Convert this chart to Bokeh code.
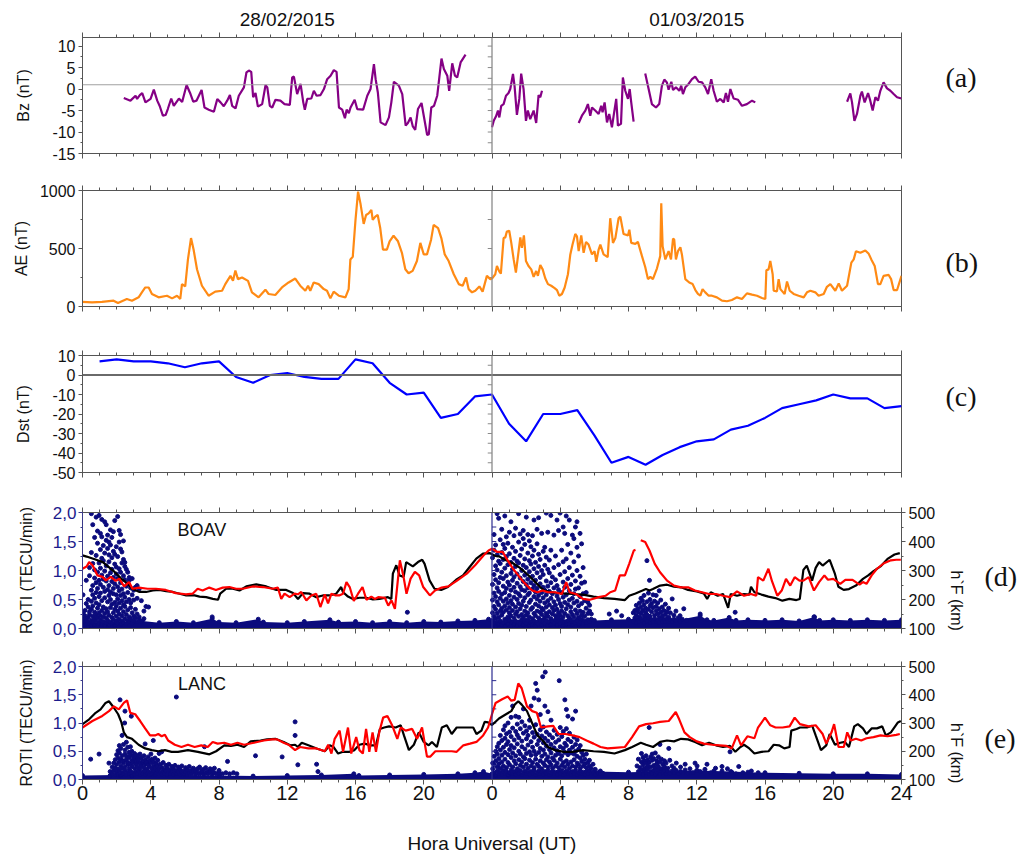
import math
from bokeh.plotting import figure
from bokeh.models import Range1d, LinearAxis, FixedTicker, Span, Label
from bokeh.layouts import column
from bokeh.embed import file_html
from bokeh.resources import INLINE

NaN = float("nan")
FONT = "Liberation Sans"
SERIF = "Liberation Serif"

# ---------------- axis / text data ----------------
x_ticks = [0, 4, 8, 12, 16, 20, 24, 28, 32, 36, 40, 44, 48]
x_minor = list(range(0, 49))
x_tick_labels = ["0", "4", "8", "12", "16", "20", "0", "4", "8", "12", "16", "20", "24"]
x_title = "Hora Universal (UT)"
date_pos = [12, 36]
dates = ["28/02/2015", "01/03/2015"]
panel_tags = ["(a)", "(b)", "(c)", "(d)", "(e)"]
stations = ["BOAV", "LANC"]

bz_ticks = [-15, -10, -5, 0, 5, 10]
ae_ticks = [0, 500, 1000]
dst_ticks = [-50, -40, -30, -20, -10, 0, 10]
roti_ticks = [0, 0.5, 1, 1.5, 2]
roti_labels = ["0,0", "0,5", "1,0", "1,5", "2,0"]
hf_ticks = [100, 200, 300, 400, 500]

# ---------------- Bz (nT) ----------------
bz_seg1 = [(2.42,-2.1),(2.81,-2.7),(3.11,-1.55),(3.2,-2.3),(3.36,-1.4),(3.5,-0.93),(3.69,-3.1),(3.99,-2.3),(4.18,-0.15),(4.38,-2.7),(4.53,-4.0),(4.71,-6.2),(4.87,-6.05),(5.0,-4.65),(5.2,-2.2),(5.35,-3.9),(5.65,-2.2),(5.84,-3.0),(6.1,0.93),(6.33,-1.16),(6.49,-2.95),(6.68,-2.7),(6.82,-1.55),(6.98,-0.23),(7.15,-4.3),(7.4,-4.8),(7.7,-5.3),(7.9,-2.3),(8.09,-3.1),(8.28,-4.0),(8.48,-2.7),(8.64,-1.4),(8.77,-3.9),(8.97,-4.5),(9.16,-1.55),(9.46,0.4),(9.61,3.9),(9.75,4.3),(9.89,4.0),(10.0,-1.9),(10.14,-0.93),(10.28,-4.1),(10.53,-3.5),(10.73,0.93),(10.83,0.4),(10.98,-3.9),(11.12,-4.3),(11.31,-2.5),(11.6,-2.7),(11.84,-3.5),(12.15,-3.7),(12.29,2.7),(12.39,2.9),(12.58,-1.16),(12.78,1.2),(12.94,-3.1),(13.03,-4.8),(13.17,-2.3),(13.41,-2.2),(13.56,-0.4),(13.72,-1.55),(13.95,-1.4),(14.15,0.0),(14.34,2.3),(14.54,3.1),(14.73,4.4),(14.89,4.0),(15.03,-4.3),(15.22,-4.8),(15.38,-6.8),(15.48,-4.8),(15.61,-5.6),(15.71,-4.3),(15.95,-2.5),(16.1,-4.65),(16.45,-4.8),(16.69,-1.55),(16.88,0.0),(17.08,5.8),(17.18,2.3),(17.31,-0.8),(17.47,-7.75),(17.63,-8.1),(17.76,-8.4),(17.96,-6.6),(18.1,-3.1),(18.25,1.7),(18.54,0.8),(18.74,-1.16),(18.94,-8.5),(19.07,-7.9),(19.23,-6.6),(19.36,-8.7),(19.5,-9.5),(19.66,-4.65),(19.87,-3.25),(20.0,-6.2),(20.2,-10.7),(20.3,-10.5),(20.44,-4.3),(20.6,-3.9),(20.79,-1.55),(21.04,7.1),(21.18,4.65),(21.38,3.1),(21.49,-0.4),(21.67,6.0),(21.83,3.1),(21.96,2.7),(22.16,6.2),(22.45,8.0)]
bz_seg2 = [(24.0,-8.9),(24.1,-7.4),(24.23,-6.4),(24.35,-5.0),(24.43,-6.6),(24.54,-3.9),(24.68,-3.5),(24.82,-1.55),(24.97,-0.93),(25.07,0.0),(25.23,3.5),(25.32,0.8),(25.46,-6.0),(25.6,-2.3),(25.71,3.6),(25.85,0.0),(25.99,-7.4),(26.1,-5.0),(26.24,-7.0),(26.44,-5.0),(26.59,-7.9),(26.73,-1.4),(26.83,-1.9),(26.93,-0.4)]
bz_seg3 = [(29.08,-7.9),(29.27,-6.2),(29.47,-5.0),(29.62,-3.5),(29.76,-6.2),(29.86,-4.3),(30.05,-5.0),(30.25,-5.8),(30.4,-3.9),(30.48,-5.4),(30.6,-3.1),(30.74,-7.75),(30.87,-5.8),(31.03,-8.9),(31.13,-6.2),(31.28,-2.3),(31.38,-8.5),(31.56,-8.1),(31.67,2.7),(31.81,-0.4),(31.97,-2.3),(32.07,0.0),(32.16,-3.1),(32.3,-7.6)]
bz_seg4 = [(32.98,3.6),(33.18,0.0),(33.37,-3.5),(33.61,-4.3),(33.8,-3.5),(33.96,0.8),(34.1,2.2),(34.25,1.55),(34.35,-0.15),(34.51,1.7),(34.61,-0.23),(34.78,0.4),(34.98,-0.4),(35.09,0.8),(35.19,-1.16),(35.33,0.4),(35.52,1.2),(35.72,2.3),(35.91,2.9),(36.11,1.7),(36.31,1.55),(36.5,0.4),(36.66,-1.16),(36.85,2.3),(36.99,-0.4),(37.18,-2.95),(37.38,-2.3),(37.58,-3.1),(37.71,-0.93),(37.83,-2.95),(37.97,0.0),(38.16,-2.2),(38.42,-2.5),(38.65,-3.9),(38.94,-3.5),(39.24,-2.7),(39.43,-3.1)]
bz_seg5 = [(44.81,-2.95),(45.0,-1.0),(45.1,-3.1),(45.24,-7.4),(45.39,-5.8),(45.59,-1.55),(45.68,-0.6),(45.84,-3.1),(46.04,-0.93),(46.17,-2.7),(46.31,-5.0),(46.47,-1.9),(46.62,-2.7),(46.76,-0.4),(46.95,1.55),(47.15,0.15),(47.35,-0.4),(47.54,-1.16),(47.74,-1.9),(48.0,-2.2)]
bz_ref = 1.0

# ---------------- AE (nT) ----------------
ae_pts = [(0.0,40),(0.56,36),(1.14,40),(1.82,50),(2.08,30),(2.6,65),(2.9,50),(3.29,79),(3.48,122),(3.68,164),(3.88,164),(4.07,108),(4.46,79),(4.95,93),(5.25,70),(5.54,93),(5.73,65),(5.83,193),(6.02,173),(6.18,406),(6.36,590),(6.51,491),(6.71,321),(7.0,179),(7.39,93),(7.78,128),(8.18,136),(8.37,193),(8.67,264),(8.82,221),(8.96,310),(9.11,236),(9.35,250),(9.7,221),(9.93,122),(10.32,79),(10.72,145),(10.91,108),(11.3,99),(11.69,164),(12.08,207),(12.47,241),(12.76,179),(13.06,136),(13.22,179),(13.35,136),(13.55,207),(13.84,193),(14.14,150),(14.33,136),(14.53,70),(14.72,128),(15.02,93),(15.41,79),(15.6,150),(15.7,406),(15.84,428),(16.0,747),(16.15,990),(16.29,889),(16.48,712),(16.62,789),(16.77,803),(16.93,832),(17.01,747),(17.16,775),(17.3,789),(17.45,676),(17.61,491),(17.84,491),(18.0,562),(18.23,610),(18.49,562),(18.72,463),(18.92,321),(19.11,287),(19.35,307),(19.6,392),(19.8,548),(20.0,449),(20.19,449),(20.43,576),(20.58,704),(20.84,676),(21.03,590),(21.23,449),(21.46,392),(21.76,278),(22.05,193),(22.28,179),(22.48,250),(22.63,150),(22.83,122),(23.02,136),(23.26,173),(23.45,128),(23.7,264),(23.9,236),
          (24.0,241),(24.19,278),(24.29,349),(24.43,301),(24.52,284),(24.68,590),(24.78,596),(24.87,647),(25.01,653),(25.13,548),(25.27,406),(25.4,292),(25.56,477),(25.66,596),(25.75,505),(25.87,613),(25.99,392),(26.14,349),(26.3,320),(26.44,255),(26.59,306),(26.69,264),(26.83,357),(26.97,320),(27.12,244),(27.28,193),(27.47,179),(27.67,159),(27.81,142),(27.94,93),(28.1,108),(28.26,164),(28.45,278),(28.59,449),(28.72,534),(28.88,625),(28.98,605),(29.08,477),(29.23,613),(29.37,463),(29.51,557),(29.66,534),(29.86,449),(30.01,477),(30.11,386),(30.25,491),(30.35,534),(30.54,449),(30.78,426),(30.93,761),(31.09,548),(31.23,590),(31.42,761),(31.52,775),(31.71,625),(31.97,613),(32.05,662),(32.16,548),(32.4,540),(32.55,557),(32.79,434),(32.98,341),(33.14,236),(33.28,255),(33.43,236),(33.67,329),(33.86,434),(33.92,889),(34.0,520),(34.16,406),(34.35,477),(34.49,406),(34.61,585),(34.68,576),(34.78,406),(34.9,477),(35.04,511),(35.13,449),(35.33,236),(35.56,207),(35.76,193),(35.92,142),(36.07,108),(36.21,93),(36.34,150),(36.5,122),(36.7,93),(36.89,93),(37.18,79),(37.48,50),(37.77,45),(38.06,56),(38.36,79),(38.65,65),(38.94,113),(39.24,102),(39.53,93),(39.82,73),(40.02,65),(40.08,312),(40.21,320),(40.31,392),(40.45,278),(40.51,136),(40.7,130),(40.8,236),(40.9,150),(41.15,108),(41.29,216),(41.45,136),(41.68,108),(41.97,93),(42.27,79),(42.46,122),(42.66,136),(42.95,122),(43.14,93),(43.44,108),(43.63,170),(43.83,193),(44.12,136),(44.32,199),(44.51,136),(44.81,179),(45.06,378),(45.2,406),(45.33,477),(45.59,463),(45.88,483),(46.08,454),(46.23,406),(46.43,349),(46.62,193),(46.76,193),(46.95,264),(47.25,272),(47.39,236),(47.54,142),(47.74,142),(48.0,264)]

# ---------------- Dst (nT), hourly ----------------
dst_hours = list(range(1, 49))
dst_values = [7, 8, 7, 7, 6, 4, 6, 7, -1, -4, 0, 1, -1, -2, -2, 8, 6, -4, -10, -9, -22, -20, -11, -10,
              -25, -34, -20, -20, -18, -31, -45, -42, -46, -41, -37, -34, -33, -28, -26, -22, -17, -15, -13, -10, -12, -12, -17, -16]

# ---------------- BOAV h'F (km) ----------------
boav_black = [(0.0,352),(0.24,348),(0.8,337),(1.19,329),(1.49,314),(1.88,295),(2.27,272),(2.66,254),(2.91,237),(3.34,226),(3.73,226),(4.12,231),(4.51,233),(4.9,229),(5.3,226),(5.69,220),(6.08,214),(6.57,214),(6.86,210),(7.25,208),(7.64,202),(7.94,199),(8.07,220),(8.42,237),(8.81,237),(9.2,231),(9.6,245),(10.18,252),(10.77,245),(11.36,233),(11.94,233),(12.34,222),(12.63,202),(12.92,222),(13.31,220),(13.7,208),(14.09,214),(14.48,214),(14.87,220),(15.16,243),(15.26,226),(15.56,210),(15.85,202),(16.24,206),(16.63,206),(17.02,200),(17.41,202),(17.9,208),(18.1,202),(18.19,289),(18.39,318),(18.58,283),(18.82,278),(18.97,329),(19.36,314),(19.66,329),(19.91,337),(20.05,323),(20.34,266),(20.63,237),(21.02,233),(21.42,243),(21.9,268),(22.3,283),(22.69,312),(23.08,341),(23.47,358),(23.86,360),
              (24.2,350),(24.41,349),(24.82,335),(25.23,325),(25.64,309),(26.05,288),(26.46,265),(26.83,242),(27.08,231),(27.49,225),(28.1,221),(28.72,219),(29.33,217),(29.95,210),(30.56,205),(31.18,202),(31.79,198),(32.04,213),(32.41,221),(32.82,231),(33.02,236),(33.23,231),(33.43,236),(33.85,248),(34.26,251),(34.67,244),(35.08,242),(35.49,233),(36.0,228),(36.41,221),(36.61,202),(36.82,225),(37.23,213),(37.54,219),(37.84,171),(37.99,219),(38.36,213),(38.77,219),(39.08,217),(39.18,244),(39.38,225),(39.79,217),(40.2,210),(40.61,205),(41.02,196),(41.43,202),(41.84,198),(42.04,202),(42.25,302),(42.45,317),(42.76,265),(42.97,309),(43.17,329),(43.38,317),(43.79,337),(44.1,288),(44.3,244),(44.61,233),(44.92,236),(45.33,248),(45.74,271),(46.05,283),(46.36,298),(46.77,314),(47.18,340),(47.59,355),(47.9,360)]
boav_red_1 = [(0.0,306),(0.24,314),(0.39,329),(0.59,318),(0.88,283),(1.17,278),(1.37,266),(1.66,278),(1.95,264),(2.15,272),(2.44,245),(2.73,260),(2.93,237),(3.32,241),(3.81,237),(4.3,237),(4.88,233),(5.47,222),(6.06,218),(6.45,220),(6.75,237),(7.04,231),(7.43,241),(7.82,233),(8.22,241),(8.61,243),(9.0,237),(9.39,237),(9.98,245),(10.57,243),(11.15,237),(11.45,241),(11.65,202),(11.84,220),(12.14,208),(12.43,220),(12.63,218),(12.82,226),(13.12,197),(13.41,214),(13.7,220),(13.94,174),(14.2,218),(14.39,187),(14.59,220),(14.84,214),(15.04,214),(15.27,220),(15.47,260),(15.66,243),(15.9,195),(16.15,220),(16.41,243),(16.64,199),(16.93,210),(17.13,202),(17.33,208),(17.72,206),(17.92,179),(18.11,197),(18.31,168),(18.6,335),(18.8,283),(18.99,220),(19.23,272),(19.48,295),(19.73,283),(19.97,243),(20.36,214),(20.66,231),(21.05,241),(21.44,245),(21.93,264),(22.52,289),(23.01,318),(23.5,352),(23.8,369),(24.0,375),(24.31,364),(24.62,364),(24.92,335),(25.23,306),(25.54,283),(25.85,260),(26.15,242),(26.36,231),(26.67,225),(26.97,231),(27.28,225),(27.69,225),(28.1,219),(28.35,260),(28.55,225),(28.92,219),(29.33,202),(29.74,199),(30.26,208),(30.67,213),(30.93,225),(31.22,231),(31.49,283),(31.79,283),(32.04,323),(32.31,369),(32.41,371)]
boav_red_2 = [(32.72,404),(32.98,398),(33.23,369),(33.54,323),(33.85,294),(34.26,265),(34.67,248),(35.08,242),(35.49,242),(35.9,231),(36.31,225),(36.72,219),(37.13,219),(37.54,213),(37.95,208),(38.36,228),(38.77,213),(39.18,219),(39.49,213),(39.59,277),(39.9,265),(40.2,306),(40.41,263),(40.72,213),(40.98,231),(41.23,271),(41.48,248),(41.74,277),(42.02,265),(42.25,265),(42.56,277),(42.87,231),(43.17,260),(43.48,283),(43.69,268),(44.0,271),(44.41,254),(44.71,268),(45.13,268),(45.54,251),(45.74,260),(45.95,254),(46.25,283),(46.56,306),(46.97,325),(47.38,335),(47.69,337),(47.96,337)]

# ---------------- LANC h'F (km) ----------------
lanc_black = [(0.0,296),(0.39,313),(0.77,336),(1.06,348),(1.35,371),(1.55,377),(1.84,354),(2.09,331),(2.28,302),(2.42,267),(2.61,250),(2.9,244),(3.29,223),(3.67,210),(4.06,204),(4.44,200),(4.83,204),(5.22,198),(5.6,198),(6.18,204),(6.76,198),(7.44,189),(7.83,200),(8.31,221),(8.7,219),(9.08,223),(9.47,215),(9.86,235),(10.43,238),(10.82,242),(11.3,244),(11.79,233),(12.17,221),(12.46,223),(12.62,215),(12.85,230),(13.24,221),(13.72,210),(14.2,200),(14.49,221),(14.72,215),(14.98,192),(15.27,198),(15.65,198),(15.94,204),(16.23,223),(16.52,227),(16.91,221),(17.2,221),(17.43,279),(17.68,284),(17.97,288),(18.36,284),(18.65,292),(18.84,256),(19.13,204),(19.42,223),(19.71,267),(20.0,233),(20.29,221),(20.48,233),(20.77,215),(21.06,284),(21.35,292),(21.64,261),(21.93,284),(22.22,284),(22.61,284),(22.9,284),(23.09,261),(23.38,273),(23.57,304),(23.77,302),
              (24.0,293),(24.41,316),(24.82,331),(25.13,342),(25.33,365),(25.54,377),(25.74,365),(26.05,342),(26.26,313),(26.46,284),(26.67,256),(26.97,238),(27.28,215),(27.69,204),(28.21,198),(28.72,198),(29.33,204),(29.95,200),(30.56,198),(31.18,192),(31.79,204),(32.21,215),(32.72,230),(33.03,223),(33.44,215),(33.85,233),(34.26,238),(34.67,235),(35.08,244),(35.49,242),(35.9,233),(36.31,221),(36.72,230),(37.13,221),(37.54,215),(37.95,219),(38.26,198),(38.56,215),(38.77,223),(39.08,210),(39.38,192),(39.79,198),(40.21,200),(40.51,223),(40.82,221),(41.13,210),(41.44,215),(41.54,273),(41.85,279),(42.05,284),(42.46,284),(42.77,290),(42.97,256),(43.28,204),(43.59,221),(43.79,261),(44.1,223),(44.41,230),(44.68,233),(44.92,215),(45.23,288),(45.44,296),(45.74,281),(45.95,261),(46.26,281),(46.56,281),(46.87,288),(47.08,256),(47.38,267),(47.79,302),(47.96,307)]
lanc_red = [(0.0,284),(0.58,307),(1.16,325),(1.55,342),(1.84,359),(2.13,348),(2.42,371),(2.61,380),(2.8,336),(3.09,331),(3.38,307),(3.67,281),(3.96,256),(4.25,256),(4.44,261),(4.64,253),(4.83,258),(5.02,238),(5.41,223),(5.8,215),(6.18,223),(6.57,215),(6.96,221),(7.34,215),(7.63,233),(7.92,227),(8.31,230),(8.7,223),(9.08,230),(9.47,223),(10.05,230),(10.63,238),(11.11,242),(11.4,242),(11.79,230),(12.08,223),(12.46,204),(12.75,215),(13.24,210),(13.72,210),(14.2,200),(14.4,223),(14.59,192),(14.78,244),(15.07,273),(15.27,198),(15.56,284),(15.75,192),(16.04,250),(16.23,204),(16.43,192),(16.62,279),(16.81,198),(17.0,267),(17.2,198),(17.39,267),(17.62,319),(17.87,325),(18.16,290),(18.45,244),(18.65,284),(18.94,273),(19.32,279),(19.61,244),(19.9,284),(20.19,181),(20.39,181),(20.68,200),(21.16,200),(21.64,200),(21.93,198),(22.32,221),(22.71,227),(23.09,233),(23.48,256),(23.77,284),
            (24.0,331),(24.21,371),(24.62,385),(24.92,394),(25.13,379),(25.33,382),(25.54,440),(25.74,423),(26.05,359),(26.36,342),(26.63,336),(26.87,284),(27.28,288),(27.59,290),(27.9,261),(28.31,261),(28.72,256),(29.13,250),(29.54,238),(29.95,227),(30.36,215),(30.77,210),(31.18,212),(31.79,215),(32.21,250),(32.62,288),(33.03,296),(33.44,299),(33.85,304),(34.36,307),(34.77,339),(34.97,313),(35.28,267),(35.59,250),(36.0,235),(36.41,227),(36.92,223),(37.33,221),(37.74,219),(38.05,210),(38.36,256),(38.6,221),(38.97,253),(39.38,246),(39.59,284),(40.0,319),(40.31,292),(40.62,284),(41.03,284),(41.44,288),(41.74,319),(42.05,296),(42.56,288),(42.97,292),(43.38,261),(43.59,227),(43.9,267),(44.05,296),(44.31,215),(44.62,215),(44.82,267),(45.03,238),(45.33,244),(45.64,238),(45.95,246),(46.36,250),(46.77,256),(47.18,253),(47.69,258),(47.9,261)]

# ---------------- ROTI (TECU/min): dots read column by column {hour: [values]} ----------------
boav_roti_day1 = {
    0.03: [0.04, 0.09, 0.17, 0.26, 0.58], 0.14: [0.02, 0.12, 0.22, 0.31], 0.22: [0.07, 0.15, 0.43, 0.83],
    0.33: [0.03, 0.11, 0.19, 0.37, 0.5], 0.41: [0.08, 0.24, 0.29, 0.91, 1.05], 0.52: [0.05, 0.14, 0.33, 0.47, 0.66, 1.31, 1.98],
    0.6: [0.11, 0.21, 0.39, 0.58, 0.74, 1.12, 1.79], 0.71: [0.06, 0.17, 0.28, 0.52, 0.87, 1.01, 1.57],
    0.8: [0.13, 0.24, 0.44, 0.62, 0.79, 1.26, 1.92], 0.88: [0.04, 0.19, 0.35, 0.69, 0.97, 1.47, 1.68],
    0.97: [0.09, 0.27, 0.41, 0.55, 0.83, 1.13, 1.95], 1.05: [0.15, 0.22, 0.61, 0.76, 1.04, 1.36, 1.64],
    1.13: [0.07, 0.31, 0.48, 0.92, 1.21, 1.58, 1.88], 1.22: [0.12, 0.2, 0.37, 0.71, 0.85, 1.17, 1.43],
    1.3: [0.05, 0.26, 0.53, 0.64, 0.99, 1.3, 1.84], 1.39: [0.1, 0.18, 0.34, 0.82, 1.08, 1.52, 1.79],
    1.47: [0.14, 0.29, 0.46, 0.67, 0.9, 1.38, 1.61], 1.55: [0.06, 0.23, 0.57, 0.74, 1.15, 1.27, 1.49],
    1.64: [0.11, 0.36, 0.5, 0.63, 0.96, 1.44, 1.7], 1.72: [0.08, 0.19, 0.42, 0.81, 1.02, 1.22, 1.57],
    1.81: [0.15, 0.27, 0.6, 0.69, 0.88, 1.33, 1.67], 1.89: [0.05, 0.33, 0.45, 0.77, 1.11, 1.28, 1.86],
    1.98: [0.12, 0.21, 0.39, 0.58, 0.94, 1.06, 1.41], 2.06: [0.09, 0.3, 0.51, 0.72, 0.86, 1.24, 1.93],
    2.15: [0.16, 0.25, 0.44, 0.65, 1.03, 1.49, 1.69], 2.23: [0.07, 0.35, 0.57, 0.79, 0.97, 1.37, 1.62],
    2.31: [0.13, 0.22, 0.48, 0.68, 1.13, 1.32], 2.4: [0.1, 0.29, 0.41, 0.6, 0.91, 1.19, 1.51],
    2.48: [0.17, 0.38, 0.54, 0.84, 1.07, 1.14], 2.57: [0.08, 0.24, 0.46, 0.73, 1.02],
    2.65: [0.14, 0.32, 0.62, 0.77, 0.97], 2.74: [0.11, 0.2, 0.5, 0.83, 0.88], 2.82: [0.16, 0.36, 0.44, 0.7],
    2.91: [0.09, 0.27, 0.58, 0.86], 3.0: [0.13, 0.21, 0.49, 0.66], 3.1: [0.18, 0.33, 0.71],
    3.2: [0.11, 0.25, 0.52, 0.74], 3.32: [0.15, 0.2, 0.68], 3.45: [0.12, 0.48], 3.6: [0.17, 0.3],
    3.72: [0.38], 3.87: [0.37], 7.6: [0.2], 19.04: [0.28],
}
boav_roti_day2 = {
    24.03: [0.05, 0.14, 0.27, 0.49, 0.76, 1.22], 24.12: [0.09, 0.21, 0.38, 0.61, 0.93, 1.35, 1.62],
    24.21: [0.03, 0.17, 0.33, 0.55, 0.84, 1.08, 1.44], 24.3: [0.11, 0.26, 0.46, 0.7, 1.01, 1.27, 1.98],
    24.39: [0.07, 0.19, 0.41, 0.64, 0.79, 1.16, 1.9], 24.48: [0.13, 0.3, 0.52, 0.88, 1.12, 1.53],
    24.57: [0.06, 0.23, 0.35, 0.59, 0.97, 1.31, 1.71], 24.66: [0.1, 0.28, 0.47, 0.73, 0.86, 1.19, 1.45],
    24.75: [0.04, 0.16, 0.39, 0.62, 1.04, 1.38, 1.94], 24.84: [0.12, 0.32, 0.51, 0.69, 0.91, 1.24, 1.58],
    24.93: [0.08, 0.2, 0.44, 0.8, 1.1, 1.47], 25.02: [0.14, 0.27, 0.36, 0.57, 0.75, 1.29, 1.66],
    25.11: [0.05, 0.22, 0.48, 0.66, 0.95, 1.14, 1.84], 25.2: [0.1, 0.31, 0.42, 0.83, 1.02, 1.4],
    25.29: [0.07, 0.18, 0.54, 0.71, 0.89, 1.21, 1.6], 25.38: [0.13, 0.25, 0.37, 0.63, 1.07, 1.33, 1.73],
    25.47: [0.04, 0.29, 0.5, 0.78, 0.94, 1.16], 25.56: [0.11, 0.21, 0.43, 0.6, 1.13, 1.49, 1.98],
    25.65: [0.08, 0.34, 0.56, 0.72, 0.87, 1.26, 1.63], 25.74: [0.15, 0.24, 0.4, 0.67, 1.0, 1.37],
    25.83: [0.06, 0.19, 0.47, 0.81, 1.09, 1.55, 1.69], 25.92: [0.12, 0.3, 0.53, 0.65, 0.92, 1.2, 1.45],
    26.01: [0.09, 0.23, 0.38, 0.76, 1.05, 1.92], 26.1: [0.14, 0.27, 0.58, 0.7, 0.85, 1.3, 1.62],
    26.19: [0.05, 0.2, 0.45, 0.61, 0.98, 1.17, 1.51], 26.28: [0.11, 0.33, 0.49, 0.79, 1.11, 1.41],
    26.37: [0.07, 0.17, 0.36, 0.68, 0.9, 1.25, 1.6], 26.46: [0.13, 0.26, 0.55, 0.74, 1.03, 1.35, 1.87],
    26.55: [0.04, 0.22, 0.42, 0.63, 0.83, 1.14], 26.64: [0.1, 0.3, 0.51, 0.69, 0.96, 1.46, 1.71],
    26.73: [0.08, 0.18, 0.39, 0.57, 1.07, 1.28, 1.91], 26.82: [0.15, 0.28, 0.47, 0.77, 0.88, 1.19],
    26.91: [0.06, 0.24, 0.35, 0.62, 1.0, 1.64], 27.0: [0.12, 0.32, 0.53, 0.71, 0.93, 1.33],
    27.09: [0.09, 0.2, 0.44, 0.66, 1.09, 1.4], 27.18: [0.14, 0.26, 0.37, 0.58, 0.82, 1.23, 1.99],
    27.27: [0.05, 0.21, 0.48, 0.73, 1.02, 1.66], 27.36: [0.11, 0.29, 0.41, 0.64, 0.96, 1.18],
    27.45: [0.07, 0.17, 0.52, 0.79, 1.35, 1.95], 27.54: [0.13, 0.25, 0.36, 0.6, 0.89],
    27.63: [0.08, 0.31, 0.46, 0.7, 1.05, 1.61], 27.72: [0.15, 0.22, 0.4, 0.84, 1.25],
    27.81: [0.06, 0.19, 0.33, 0.56, 0.74, 1.87], 27.9: [0.12, 0.27, 0.5, 0.67, 1.1, 1.69],
    27.99: [0.09, 0.23, 0.43, 0.93, 1.99], 28.08: [0.14, 0.3, 0.38, 0.62, 1.35],
    28.17: [0.05, 0.2, 0.54, 0.8, 1.15, 1.75], 28.26: [0.11, 0.26, 0.45, 0.71, 0.98, 1.64],
    28.35: [0.07, 0.34, 0.58, 1.2, 1.94], 28.44: [0.13, 0.22, 0.41, 0.86, 1.45],
    28.53: [0.08, 0.18, 0.49, 0.65, 1.05, 1.87], 28.62: [0.15, 0.29, 0.37, 0.76, 1.3],
    28.71: [0.06, 0.24, 0.52, 0.92, 1.61], 28.8: [0.12, 0.2, 0.44, 0.6, 1.15, 1.55],
    28.89: [0.1, 0.32, 0.68, 0.82, 1.75], 28.98: [0.14, 0.26, 0.47, 1.0, 1.4, 1.84],
    29.07: [0.07, 0.19, 0.39, 0.7, 1.25], 29.16: [0.11, 0.3, 0.55, 0.9, 1.64],
    29.25: [0.16, 0.23, 0.43, 0.78, 1.46], 29.34: [0.08, 0.28, 0.6, 1.05], 29.43: [0.13, 0.21, 0.48, 0.8],
    29.52: [0.1, 0.35, 0.62], 29.62: [0.15, 0.26, 0.45], 29.72: [0.11, 0.3, 0.4], 29.82: [0.16, 0.25],
    30.87: [0.25], 31.3: [0.3], 31.6: [0.22],
    32.28: [0.12, 0.27], 32.37: [0.18, 0.31], 32.46: [0.1, 0.23, 0.4], 32.55: [0.15, 0.29, 0.34],
    32.64: [0.11, 0.2, 0.44], 32.73: [0.17, 0.26, 0.37, 0.52], 32.82: [0.13, 0.31, 0.48],
    32.91: [0.09, 0.22, 0.41, 0.57], 33.0: [0.16, 0.28, 0.35], 33.08: [0.12, 0.24, 0.46, 1.17],
    33.17: [0.18, 0.33, 0.61], 33.23: [0.83], 33.26: [0.1, 0.21, 0.39, 0.5], 33.35: [0.15, 0.29, 0.43],
    33.44: [0.12, 0.36, 0.58], 33.53: [0.17, 0.23, 0.47], 33.62: [0.11, 0.3, 0.38, 0.57],
    33.71: [0.14, 0.25, 0.44], 33.8: [0.1, 0.19, 0.34, 0.65], 33.89: [0.16, 0.28, 0.49],
    33.98: [0.12, 0.22, 0.37], 34.07: [0.15, 0.31], 34.16: [0.11, 0.24, 0.42], 34.25: [0.17, 0.29],
    34.35: [0.12, 0.2, 0.35], 34.45: [0.15, 0.27], 34.56: [0.11, 0.51], 34.66: [0.16, 0.23],
    34.78: [0.13, 0.3], 34.9: [0.18], 35.02: [0.12, 0.22], 35.15: [0.16], 35.24: [0.34], 35.4: [0.14],
    36.2: [0.25], 38.25: [0.28], 42.87: [0.2],
}
boav_band = [(0,0.12),(1,0.1),(2,0.13),(3,0.11),(3.5,0.13),(4.5,0.1),(5.5,0.12),(6.5,0.1),(7.6,0.17),(8,0.11),(9,0.1),(10.3,0.16),(10.6,0.11),(12,0.1),(13,0.12),(14.5,0.15),(15,0.11),(16,0.12),(17,0.1),(18,0.12),(19,0.1),(20,0.12),(21,0.11),(22,0.13),(23,0.14),(23.8,0.16),(24,0.12),(25,0.15),(26,0.14),(27,0.15),(28,0.16),(29,0.15),(30,0.14),(31,0.15),(32,0.16),(33,0.18),(34,0.17),(35,0.15),(36.2,0.22),(36.6,0.15),(37,0.14),(37.9,0.19),(38.3,0.14),(39,0.15),(40,0.14),(41,0.15),(42,0.13),(42.9,0.2),(43.2,0.14),(44,0.15),(45,0.14),(46,0.15),(47,0.14),(48,0.15)]

lanc_roti_day1 = {
    0.48: [0.36], 0.97: [0.45], 1.55: [0.29], 1.62: [0.07, 0.14], 1.74: [0.1, 0.22], 1.83: [0.16, 0.29],
    1.92: [0.08, 0.21, 0.35], 2.0: [0.13, 0.27, 0.44], 2.08: [0.09, 0.18, 0.38, 0.51], 2.16: [0.15, 0.31, 0.47, 0.6],
    2.2: [1.41], 2.24: [0.07, 0.24, 0.36, 0.55], 2.32: [0.12, 0.2, 0.42, 0.78], 2.4: [0.1, 0.29, 0.33, 0.62],
    2.47: [1.0], 2.49: [0.16, 0.22, 0.45, 0.52, 1.21], 2.57: [0.08, 0.35, 0.41, 0.66], 2.65: [0.13, 0.26, 0.3, 0.57],
    2.73: [0.1, 0.19, 0.39, 0.48], 2.81: [0.15, 0.28, 0.44, 0.58], 2.86: [1.12], 2.89: [0.07, 0.23, 0.34, 0.5],
    2.97: [0.12, 0.3, 0.41], 3.05: [0.09, 0.2, 0.37, 0.46], 3.13: [0.14, 0.27, 0.33], 3.21: [0.1, 0.22, 0.4, 0.43],
    3.29: [0.16, 0.31, 0.36], 3.37: [0.08, 0.19, 0.28, 0.45], 3.45: [0.13, 0.24, 0.39], 3.53: [0.1, 0.29, 0.33],
    3.61: [0.15, 0.21, 0.42], 3.67: [0.63], 3.69: [0.09, 0.27, 0.35], 3.77: [0.12, 0.18, 0.31], 3.85: [0.14, 0.26, 0.4],
    3.93: [0.08, 0.22, 0.33], 4.01: [0.13, 0.29, 0.45], 4.09: [0.1, 0.19, 0.36], 4.15: [0.69], 4.17: [0.15, 0.24, 0.31],
    4.25: [0.09, 0.2, 0.38], 4.33: [0.12, 0.28], 4.41: [0.16, 0.23, 0.34], 4.49: [0.1, 0.19, 0.46], 4.57: [0.13, 0.27],
    4.64: [0.49], 4.65: [0.09, 0.21], 4.73: [0.14, 0.3], 4.81: [0.11, 0.18], 4.89: [0.15, 0.25], 4.97: [0.08, 0.2],
    5.06: [0.13, 0.27], 5.15: [0.1, 0.17], 5.24: [0.14, 0.23], 5.33: [0.09, 0.19], 5.42: [0.12, 0.25], 5.5: [1.46],
    5.52: [0.1, 0.16], 5.62: [0.14, 0.22], 5.72: [0.09, 0.18], 5.82: [0.12, 0.24], 5.93: [0.1, 0.15], 6.04: [0.13, 0.21],
    6.15: [0.09, 0.17], 6.26: [0.12, 0.23], 6.38: [0.1, 0.16], 6.5: [0.14, 0.2], 6.62: [0.09, 0.15], 6.74: [0.12, 0.19],
    6.86: [0.1, 0.22], 6.98: [0.13, 0.16], 7.1: [0.09, 0.18], 7.15: [0.58], 7.22: [0.12, 0.21], 7.35: [0.1, 0.15],
    7.48: [0.13, 0.19], 7.6: [0.09, 0.17], 7.73: [0.12, 0.2], 7.86: [0.1], 8.0: [0.13, 0.16], 8.2: [0.1], 8.4: [0.12],
    8.5: [0.32], 8.62: [0.1], 8.85: [0.12], 9.05: [0.1],
    10.14: [0.42], 11.7: [0.4], 12.46: [0.78, 1.02], 12.62: [0.26], 13.72: [0.27], 13.8: [0.14],
}
lanc_roti_day2 = {
    24.04: [0.08, 0.19, 0.29], 24.13: [0.12, 0.26, 0.41], 24.22: [0.07, 0.33, 0.5], 24.31: [0.15, 0.22, 0.45, 0.58],
    24.4: [0.1, 0.28, 0.37, 0.64], 24.49: [0.13, 0.2, 0.52, 0.78], 24.58: [0.09, 0.31, 0.43, 0.69],
    24.67: [0.16, 0.24, 0.57, 0.88], 24.76: [0.11, 0.36, 0.48, 0.73, 0.95], 24.85: [0.14, 0.21, 0.62, 0.81],
    24.94: [0.08, 0.3, 0.44, 0.67, 1.0], 25.03: [0.12, 0.26, 0.53, 0.84], 25.12: [0.17, 0.39, 0.6, 0.76, 1.1],
    25.21: [0.1, 0.22, 0.47, 0.91, 1.3], 25.3: [0.14, 0.33, 0.56, 0.7], 25.39: [0.09, 0.28, 0.42, 0.85, 1.12],
    25.48: [0.13, 0.19, 0.63, 0.79, 0.98], 25.57: [0.11, 0.35, 0.5, 0.74, 1.1], 25.66: [0.16, 0.25, 0.45, 0.9],
    25.75: [0.08, 0.31, 0.58, 0.68, 1.02], 25.84: [0.12, 0.22, 0.4, 0.82, 1.25], 25.93: [0.15, 0.37, 0.54, 0.95],
    26.02: [0.1, 0.27, 0.46, 0.72, 0.86], 26.11: [0.13, 0.2, 0.61, 0.78], 26.2: [0.09, 0.34, 0.49, 0.92, 1.05],
    26.29: [0.14, 0.24, 0.43, 0.67, 1.3], 26.38: [0.11, 0.3, 0.57, 0.83], 26.47: [0.16, 0.21, 0.5, 0.75, 1.44],
    26.56: [0.08, 0.36, 0.44, 0.97, 1.7], 26.65: [0.12, 0.27, 0.62, 0.8, 1.58], 26.74: [0.15, 0.23, 0.48, 0.69, 1.41],
    26.83: [0.1, 0.33, 0.55, 0.88, 1.15], 26.92: [0.13, 0.19, 0.41, 0.77], 26.97: [1.82],
    27.01: [0.09, 0.29, 0.52, 0.65, 0.93], 27.1: [0.14, 0.25, 0.45, 0.73, 1.3], 27.12: [1.9],
    27.19: [0.11, 0.35, 0.59, 0.84], 27.28: [0.16, 0.22, 0.4, 0.68, 1.2], 27.37: [0.08, 0.31, 0.53, 0.79],
    27.46: [0.12, 0.26, 0.47, 0.62, 1.05], 27.55: [0.15, 0.2, 0.38, 0.74], 27.64: [0.1, 0.34, 0.56, 0.87],
    27.73: [0.13, 0.24, 0.43, 0.66], 27.82: [0.09, 0.29, 0.51, 0.8], 27.91: [0.14, 0.21, 0.46, 0.7], 27.94: [1.75],
    28.0: [0.11, 0.36, 0.58, 0.92], 28.09: [0.16, 0.25, 0.42, 0.76], 28.18: [0.08, 0.3, 0.55, 0.85],
    28.27: [0.12, 0.22, 0.48, 0.64, 1.41], 28.36: [0.15, 0.33, 0.6, 0.9, 1.24], 28.45: [0.1, 0.27, 0.44, 0.71, 1.12],
    28.54: [0.13, 0.2, 0.52, 0.82], 28.63: [0.09, 0.31, 0.47, 0.67], 28.72: [0.14, 0.24, 0.57, 1.07],
    28.81: [0.11, 0.35, 0.45, 0.75], 28.9: [0.16, 0.22, 0.5, 0.62, 1.21], 28.99: [0.08, 0.29, 0.41, 0.7],
    29.08: [0.12, 0.26, 0.54], 29.17: [0.15, 0.2, 0.38, 0.6], 29.26: [0.1, 0.32, 0.48], 29.35: [0.13, 0.24, 0.43],
    29.44: [0.09, 0.28, 0.36], 29.53: [0.14, 0.21, 0.45], 29.62: [0.11, 0.3], 29.71: [0.16, 0.24, 0.34],
    29.81: [0.1, 0.2], 29.92: [0.13, 0.27], 30.05: [0.09, 0.18], 30.2: [0.12], 30.35: [0.1, 0.15], 30.5: [0.11],
    32.5: [0.24], 32.58: [0.14, 0.36], 32.67: [0.11, 0.21], 32.76: [0.17, 0.31, 0.46], 32.85: [0.09, 0.26, 0.39],
    32.94: [0.15, 0.2, 0.33], 33.03: [0.12, 0.29, 0.42], 33.12: [0.18, 0.24, 0.35], 33.21: [0.1, 0.3, 0.92],
    33.3: [0.14, 0.22, 0.4], 33.39: [0.11, 0.34, 0.45], 33.48: [0.16, 0.25, 0.37], 33.57: [0.09, 0.2, 0.47],
    33.66: [0.13, 0.28, 0.33], 33.75: [0.17, 0.23, 0.4], 33.84: [0.1, 0.31, 0.62], 33.93: [0.14, 0.19, 0.36],
    34.02: [0.12, 0.27], 34.11: [0.16, 0.22, 0.33], 34.2: [0.1, 0.29], 34.3: [0.14, 0.2], 34.36: [0.55],
    34.42: [0.11, 0.34], 34.55: [0.15, 0.24], 34.67: [0.12, 0.2], 34.8: [0.16, 0.29], 34.93: [0.1],
    35.05: [0.14, 0.22], 35.2: [0.12], 35.32: [0.17, 0.27], 35.47: [0.11], 35.6: [0.19], 35.78: [0.12],
    35.9: [0.29], 36.02: [0.16, 0.24], 36.2: [0.14], 36.48: [0.18], 36.6: [0.27], 36.82: [0.12], 37.1: [0.2],
    37.48: [0.15, 0.23], 37.8: [0.19], 37.95: [0.49], 38.05: [0.13], 38.3: [0.1], 38.46: [0.23], 38.7: [0.12],
    39.2: [0.15], 39.6: [0.12],
}
lanc_band = [(0,0.07),(2,0.08),(4,0.09),(6,0.08),(8,0.07),(10,0.06),(12,0.07),(14,0.08),(15.9,0.1),(16.2,0.07),(18,0.08),(20,0.09),(22,0.1),(23,0.12),(23.5,0.14),(24,0.1),(26,0.12),(28,0.13),(30,0.14),(32,0.13),(34,0.14),(36,0.16),(37,0.15),(38,0.14),(39,0.13),(40,0.12),(42,0.11),(44,0.1),(46,0.1),(48,0.09)]

# ---------------- helpers ----------------
def xs(pts):
    return [a for a, b in pts]

def ys(pts):
    return [b for a, b in pts]

def joined(*segs):
    X, Y = [], []
    for i, s in enumerate(segs):
        if i:
            X.append(NaN); Y.append(NaN)
        X += xs(s); Y += ys(s)
    return X, Y

def columns_to_points(*cols):
    X, Y = [], []
    for c in cols:
        for t, vals in c.items():
            for v in vals:
                X.append(t); Y.append(v)
    return X, Y

W = 1028
LB, RB = 82, 127
AX = "#555555"
NAVY = "#0b0b7d"

def make_fig(h, top, bottom, y0, y1):
    p = figure(width=W, height=h, x_range=Range1d(0, 48), y_range=Range1d(y0, y1),
               x_axis_location=None, y_axis_location=None,
               output_backend="svg", toolbar_location=None,
               min_border_left=LB, min_border_right=RB,
               min_border_top=top, min_border_bottom=bottom)
    p.grid.visible = False
    p.outline_line_color = AX
    p.outline_line_width = 1
    p.background_fill_color = "white"
    p.border_fill_color = "white"
    return p

def add_x(p, where, show_labels=False, title=None):
    ax = LinearAxis(ticker=FixedTicker(ticks=x_ticks, minor_ticks=x_minor))
    ax.axis_line_color = AX
    ax.major_tick_line_color = AX
    ax.minor_tick_line_color = AX
    ax.major_tick_in = 0
    ax.major_tick_out = 5
    ax.minor_tick_in = 0
    ax.minor_tick_out = 3
    if show_labels:
        ax.major_label_overrides = dict(zip(x_ticks, x_tick_labels))
        ax.major_label_text_font = FONT
        ax.major_label_text_font_size = "20px"
        ax.major_label_text_color = "#111111"
        ax.major_label_standoff = 1
    else:
        ax.major_label_text_font_size = "1px"
        ax.major_label_text_color = None
        ax.major_label_standoff = 0
    if title:
        ax.axis_label = title
        ax.axis_label_text_font = FONT
        ax.axis_label_text_font_size = "19px"
        ax.axis_label_text_font_style = "normal"
        ax.axis_label_text_color = "#111111"
        ax.axis_label_standoff = 30
    p.add_layout(ax, where)

def add_text_axis(p, where, positions, texts, standoff, font, size, range_name=None):
    kw = {"y_range_name": range_name} if range_name else {}
    ax = LinearAxis(ticker=FixedTicker(ticks=positions, minor_ticks=[]), **kw)
    ax.major_label_overrides = dict(zip(positions, texts))
    ax.major_label_text_font = font
    ax.major_label_text_font_size = size
    ax.major_label_text_color = "#111111"
    ax.major_label_standoff = standoff
    ax.axis_line_color = None
    ax.major_tick_line_color = None
    ax.minor_tick_line_color = None
    ax.major_tick_in = 0
    ax.major_tick_out = 0
    ax.minor_tick_in = 0
    ax.minor_tick_out = 0
    p.add_layout(ax, where)

def add_y(p, where, ticks, minor, labels, title, standoff, tick_color="#111111",
          size="16px", range_name=None, line_color=AX, label_standoff=3, orient=None):
    kw = {"y_range_name": range_name} if range_name else {}
    ax = LinearAxis(ticker=FixedTicker(ticks=ticks, minor_ticks=minor), axis_label=title, **kw)
    ax.major_label_overrides = dict(zip(ticks, labels))
    ax.major_label_text_font = FONT
    ax.major_label_text_font_size = size
    ax.major_label_text_color = tick_color
    ax.major_label_standoff = label_standoff
    ax.axis_label_text_font = FONT
    ax.axis_label_text_font_size = "16px"
    ax.axis_label_text_font_style = "normal"
    ax.axis_label_text_color = "#111111"
    ax.axis_label_standoff = standoff
    if orient is not None:
        ax.axis_label_orientation = orient
    ax.axis_line_color = line_color
    ax.major_tick_line_color = line_color
    ax.minor_tick_line_color = line_color
    ax.major_tick_in = 0
    ax.major_tick_out = 4
    ax.minor_tick_in = 0
    ax.minor_tick_out = 2
    p.add_layout(ax, where)

def sep_ticks(p, ticks, color, direction, y_range_name="default"):
    p.segment(x0=[24] * len(ticks), y0=ticks, x1=[24 + direction * 0.25] * len(ticks), y1=ticks,
              line_color=color, line_width=1, y_range_name=y_range_name)

# ---------------- (a) Bz ----------------
pa = make_fig(172, 37, 19, -15, 12)
add_x(pa, "above"); add_x(pa, "below")
add_text_axis(pa, "above", date_pos, dates, 3, FONT, "19px")
add_y(pa, "left", bz_ticks, [-15 + 2.5 * i for i in range(11)], [str(t) for t in bz_ticks], "Bz (nT)", 17)
add_text_axis(pa, "right", [2.7], [panel_tags[0]], 44, SERIF, "28px")
pa.add_layout(Span(location=bz_ref, dimension="width", line_color="#a0a0a0", line_width=1))
pa.add_layout(Span(location=24, dimension="height", line_color="#8a8a8a", line_width=1.3))
sep_ticks(pa, [-15 + 2.5 * i for i in range(11)], "#8a8a8a", -1)
bx, by = joined(bz_seg1, bz_seg2, bz_seg3, bz_seg4, bz_seg5)
pa.line(bx, by, line_color="#850085", line_width=2.2)

# ---------------- (b) AE ----------------
pb = make_fig(163, 18, 29, 0, 1000)
add_x(pb, "above"); add_x(pb, "below")
add_y(pb, "left", ae_ticks, [0, 250, 500, 750, 1000], [str(t) for t in ae_ticks], "AE (nT)", 7)
add_text_axis(pb, "right", [379], [panel_tags[1]], 44, SERIF, "28px")
pb.add_layout(Span(location=24, dimension="height", line_color="#8a8a8a", line_width=1.3))
sep_ticks(pb, [0, 250, 500, 750, 1000], "#8a8a8a", -1)
pb.line(xs(ae_pts), ys(ae_pts), line_color="#ff8a14", line_width=2.2)

# ---------------- (c) Dst ----------------
pc = make_fig(155, 20, 18, -50, 10)
add_x(pc, "above"); add_x(pc, "below")
add_y(pc, "left", dst_ticks, list(range(-50, 11, 5)), [str(t) for t in dst_ticks], "Dst (nT)", 17)
add_text_axis(pc, "right", [-11], [panel_tags[2]], 44, SERIF, "28px")
pc.add_layout(Span(location=0, dimension="width", line_color="#6a6a6a", line_width=1.8))
pc.add_layout(Span(location=24, dimension="height", line_color="#8a8a8a", line_width=1.3))
sep_ticks(pc, list(range(-50, 11, 5)), "#8a8a8a", -1)
pc.line(dst_hours, dst_values, line_color="#0000ff", line_width=2.2)

# ---------------- (d) BOAV and (e) LANC ----------------
def roti_fig(h, top, bottom, roti_cols, band, black, red_segs, station, tagtext, tagy):
    p = make_fig(h, top, bottom, 0, 2)
    p.extra_y_ranges = {"hf": Range1d(100, 500)}
    add_x(p, "above")
    add_y(p, "left", roti_ticks, [0.25 * i for i in range(9)], roti_labels, "ROTI (TECU/min)", 15,
          tick_color="#1c1c8c", size="17px", line_color="#3a3a8a", label_standoff=2)
    add_y(p, "right", hf_ticks, list(range(100, 501, 50)), [str(t) for t in hf_ticks], "h`F (km)", 18,
          size="16px", range_name="hf", label_standoff=3, orient=-math.pi / 2)
    add_text_axis(p, "right", [tagy], [tagtext], 8, SERIF, "28px")
    bxv = xs(band); byv = ys(band)
    p.varea(x=bxv, y1=[0] * len(band), y2=byv, fill_color=NAVY, fill_alpha=1.0)
    p.scatter(bxv, byv, size=4, color=NAVY)
    rx_, ry_ = columns_to_points(*roti_cols)
    p.scatter(rx_, ry_, size=4, color=NAVY, line_color=NAVY)
    p.add_layout(Span(location=24, dimension="height", line_color="#2c2c90", line_width=1.2))
    sep_ticks(p, [0.25 * i for i in range(9)], "#2c2c90", 1)
    p.line(xs(black), ys(black), line_color="#000000", line_width=2.2, y_range_name="hf")
    rx, ry = joined(*red_segs)
    p.line(rx, ry, line_color="#ff0000", line_width=2.2, y_range_name="hf")
    p.add_layout(Label(x=7.0, y=1.69, text=station, text_font=FONT, text_font_size="18px",
                       text_align="center", text_baseline="middle", text_color="#111111"))
    return p

pd = roti_fig(156, 22, 18, [boav_roti_day1, boav_roti_day2], boav_band, boav_black,
              [boav_red_1, boav_red_2], stations[0], panel_tags[3], 0.9)
add_x(pd, "below")

pe = roti_fig(210, 20, 74, [lanc_roti_day1, lanc_roti_day2], lanc_band, lanc_black, [lanc_red],
              stations[1], panel_tags[4], 0.72)
add_x(pe, "below", show_labels=True, title=x_title)

layout = column(pa, pb, pc, pd, pe, spacing=0)
open("out.html", "w").write(file_html(layout, INLINE))
